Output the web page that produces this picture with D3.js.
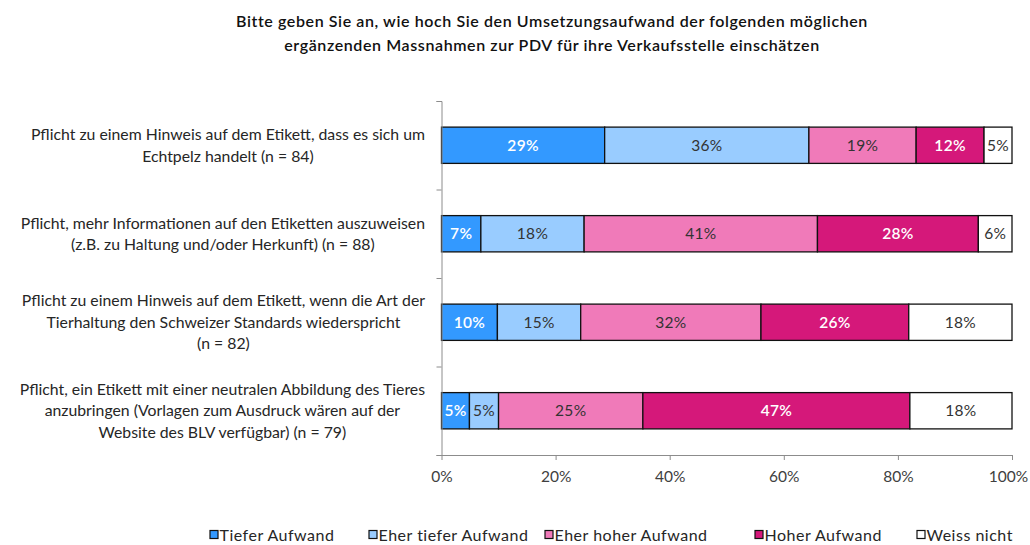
<!DOCTYPE html>
<html>
<head>
<meta charset="utf-8">
<script src="https://cdn.jsdelivr.net/npm/d3@7"></script>
<style>
  html, body { margin: 0; padding: 0; background: #fff; }
  svg { display: block; font-family: Lato, "Open Sans", sans-serif; }
</style>
</head>
<body>
<svg id="chart" width="1030" height="545"></svg>
<script>
const titleLines = [
  "Bitte geben Sie an, wie hoch Sie den Umsetzungsaufwand der folgenden möglichen",
  "ergänzenden Massnahmen zur PDV für ihre Verkaufsstelle einschätzen"
];
const categories = [
  ["Pflicht zu einem Hinweis auf dem Etikett, dass es sich um", "Echtpelz handelt (n = 84)"],
  ["Pflicht, mehr Informationen auf den Etiketten auszuweisen", "(z.B. zu Haltung und/oder Herkunft) (n = 88)"],
  ["Pflicht zu einem Hinweis auf dem Etikett, wenn die Art der", "Tierhaltung den Schweizer Standards wiederspricht", "(n = 82)"],
  ["Pflicht, ein Etikett mit einer neutralen Abbildung des Tieres", "anzubringen (Vorlagen zum Ausdruck wären auf der", "Website des BLV verfügbar) (n = 79)"]
];
const seriesNames = ["Tiefer Aufwand", "Eher tiefer Aufwand", "Eher hoher Aufwand", "Hoher Aufwand", "Weiss nicht"];
const tiefer      = [28.6, 6.9, 9.8, 4.9];
const eherTiefer  = [35.8, 18.1, 14.6, 5.1];
const eherHoher   = [18.8, 40.9, 31.6, 25.3];
const hoher       = [11.9, 28.2, 25.9, 46.8];
const weissNicht  = [4.9, 5.9, 18.1, 17.9];
const xTicks = [0, 20, 40, 60, 80, 100];

const colors = ["#3399FF", "#99CCFF", "#F07AB9", "#D5187A", "#FFFFFF"];
const labelColors = ["#ffffff", "#333333", "#333333", "#ffffff", "#333333"];
const seriesValues = [tiefer, eherTiefer, eherHoher, hoher, weissNicht];

const svg = d3.select("#chart");
const textColor = "#262626";

// Title
svg.append("g").selectAll("text").data(titleLines).join("text")
  .attr("x", 552).attr("y", (d, i) => 27 + i * 23.5)
  .attr("text-anchor", "middle")
  .attr("font-size", 16).attr("font-weight", 600)
  .attr("letter-spacing", 0.6)
  .attr("fill", "#111").text(d => d);

const x = d3.scaleLinear().domain([0, 100]).range([441.5, 1012]);
const y = d3.scaleBand().domain(d3.range(categories.length)).range([101, 455])
  .paddingInner(0.59).paddingOuter(0.295);
const yEdges = d3.scaleLinear().domain([0, categories.length]).range([101, 455]);

// Build stacked data
const rows = categories.map((c, i) => {
  const obj = { idx: i };
  seriesNames.forEach((s, k) => obj[s] = seriesValues[k][i]);
  return obj;
});
const stack = d3.stack().keys(seriesNames)(rows);

const gBars = svg.append("g");
stack.forEach((layer, k) => {
  const g = gBars.append("g");
  g.selectAll("rect").data(layer).join("rect")
    .attr("x", d => x(d[0]))
    .attr("y", d => y(d.data.idx))
    .attr("width", d => x(d[1]) - x(d[0]))
    .attr("height", y.bandwidth())
    .attr("fill", colors[k])
    .attr("stroke", "#111").attr("stroke-width", 1.3);
  g.selectAll("text").data(layer).join("text")
    .attr("x", d => (x(d[0]) + x(d[1])) / 2)
    .attr("y", d => y(d.data.idx) + y.bandwidth() / 2 + 5.5)
    .attr("text-anchor", "middle")
    .attr("font-size", 15.5)
    .attr("letter-spacing", 0.3)
    .attr("font-weight", (k === 0 || k === 3) ? 600 : 400)
    .attr("fill", labelColors[k])
    .text(d => Math.round(d[1] - d[0]) + "%");
});

// Y axis (ticks at category boundaries)
const yAxis = svg.append("g").attr("transform", "translate(441.5,0)")
  .call(d3.axisLeft(yEdges).tickValues(d3.range(categories.length + 1)).tickSize(5).tickFormat(""));
yAxis.selectAll("path, line").attr("stroke", "#8c8c8c");

// X axis
const xAxis = svg.append("g").attr("transform", "translate(0,455)")
  .call(d3.axisBottom(x).tickValues(xTicks).tickSize(5).tickSizeOuter(0).tickFormat(d => d + "%"));
xAxis.selectAll("path, line").attr("stroke", "#8c8c8c");
xAxis.selectAll("text").attr("font-size", 15.5).attr("fill", "#404040")
  .attr("font-family", "Lato, sans-serif").attr("y", 14).attr("dy", "0.85em")
  .attr("dx", d => d === 100 ? -4 : 0);

// Category labels
const lineH = 21.5;
categories.forEach((lines, i) => {
  const cy = y(i) + y.bandwidth() / 2;
  const g = svg.append("g");
  const texts = g.selectAll("text").data(lines).join("text")
    .attr("y", (d, j) => cy + (j - (lines.length - 1) / 2) * lineH + 5.5)
    .attr("font-size", 15.8).attr("fill", textColor)
    .attr("text-anchor", "middle").text(d => d);
  let maxW = 0;
  texts.each(function () { maxW = Math.max(maxW, this.getComputedTextLength()); });
  texts.attr("x", 425 - maxW / 2);
});

// Legend
const legendX = [210, 369, 545, 755, 917];
const lg = svg.append("g").selectAll("g").data(seriesNames).join("g")
  .attr("transform", (d, i) => `translate(${legendX[i]},535)`);
lg.append("rect").attr("x", 0).attr("y", -4.5).attr("width", 8).attr("height", 8)
  .attr("fill", (d, i) => colors[i]).attr("stroke", "#111").attr("stroke-width", 1.2);
lg.append("text").attr("x", 9.5).attr("y", 5.5).attr("font-size", 16)
  .attr("letter-spacing", 0.5)
  .attr("fill", textColor).text(d => d);
</script>
</body>
</html>
